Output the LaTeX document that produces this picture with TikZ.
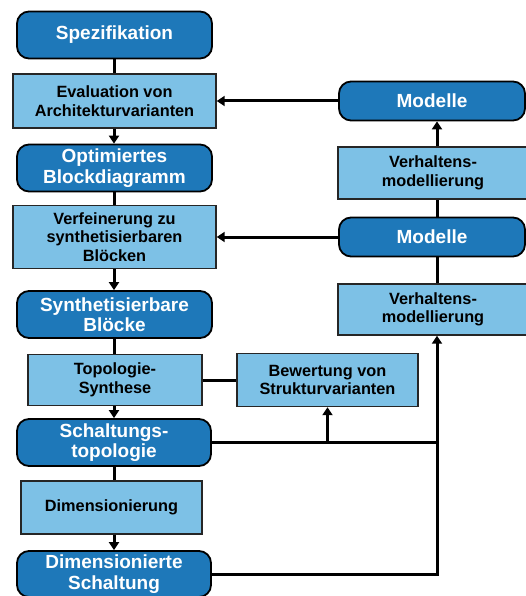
\documentclass[tikz,border=0pt]{standalone}
\usepackage{fontspec}
\setmainfont{Liberation Sans}
\usetikzlibrary{arrows.meta}
\definecolor{resblue}{RGB}{30,120,185}
\definecolor{taskblue}{RGB}{125,193,230}
\tikzstyle{result}=[rectangle, rounded corners=12pt, fill=resblue, draw=black, line width=1.8pt, text=white, font=\bfseries\fontsize{19}{20.5}\selectfont, align=center, inner sep=0pt, anchor=center]
\tikzstyle{task}=[rectangle, fill=taskblue, draw=black!85, line width=1.4pt, font=\bfseries\fontsize{16.3}{18.5}\selectfont, align=center, inner sep=0pt, anchor=center]
\tikzstyle{link}=[line width=3pt]
\tikzstyle{flow}=[line width=3pt, -{Triangle[length=8pt,width=10pt]}]

\begin{document}
\begin{tikzpicture}[x=1pt,y=-1pt]
	\useasboundingbox (0,0) rectangle (526,596);
	\coordinate (spine) at (114,0);
	\coordinate (rail) at (437,0);

	% left column
	\node[result, minimum width=195pt, minimum height=47pt](spez) at (114.5,35){Spezifikation};
	\node[task, minimum width=203pt, minimum height=54pt](eval) at (114.5,101){Evaluation von\\Architekturvarianten};
	\node[result, minimum width=195pt, minimum height=47pt](opt) at (114.5,168){Optimiertes\\Blockdiagramm};
	\node[task, minimum width=203pt, minimum height=63pt](verf) at (114.5,237){Verfeinerung zu\\synthetisierbaren\\Bl\"ocken};
	\node[result, minimum width=195pt, minimum height=47pt](synth) at (114.5,314.5){Synthetisierbare\\Bl\"ocke};
	\node[task, minimum width=174pt, minimum height=51pt](topo) at (115,380){Topologie-\\Synthese};
	\node[result, minimum width=194pt, minimum height=47pt](schalt) at (114,442.5){Schaltungs-\\topologie};
	\node[task, minimum width=181pt, minimum height=53pt](dim) at (111.5,507.5){Dimensionierung};
	\node[result, minimum width=194pt, minimum height=46pt](dims) at (114,574){Dimensionierte\\Schaltung};

	% right column
	\node[task, minimum width=181pt, minimum height=53pt](bew) at (327.5,380){Bewertung von\\Strukturvarianten};
	\node[result, minimum width=186pt, minimum height=39pt](mod1) at (432,101){Modelle};
	\node[task, minimum width=190pt, minimum height=52pt](verh1) at (433,173){Verhaltens-\\modellierung};
	\node[result, minimum width=186pt, minimum height=39pt](mod2) at (432,237){Modelle};
	\node[task, minimum width=190pt, minimum height=51pt](verh2) at (433,309.5){Verhaltens-\\modellierung};

	% main flow
	\draw[link] (spez.south -| spine) -- (eval.north -| spine);
	\draw[flow] (eval.south -| spine) -- (opt.north -| spine);
	\draw[link] (opt.south -| spine) -- (verf.north -| spine);
	\draw[flow] (verf.south -| spine) -- (synth.north -| spine);
	\draw[link] (synth.south -| spine) -- (topo.north -| spine);
	\draw[flow] (topo.south -| spine) -- (schalt.north -| spine);
	\draw[link] (schalt.south -| spine) -- (dim.north -| spine);
	\draw[flow] (dim.south -| spine) -- (dims.north -| spine);

	% feedback
	\draw[link] (topo) -- (bew);
	\draw[link] (schalt.east) -- (schalt.east -| rail);
	\draw[flow] (schalt.east -| bew.south) -- (bew.south);
	\draw[flow] (dims.east) -| (verh2.south -| rail);
	\draw[link] (verh2.north -| rail) -- (mod2.south -| rail);
	\draw[link] (mod2.north -| rail) -- (verh1.south -| rail);
	\draw[flow] (verh1.north -| rail) -- (mod1.south -| rail);
	\draw[flow] (mod1) -- (eval);
	\draw[flow] (mod2) -- (verf);
	%\draw[link] (topo.west) -- ++(-2,0);

\end{tikzpicture}
\end{document}
